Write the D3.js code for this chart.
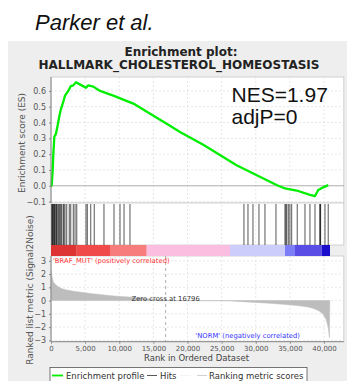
<!DOCTYPE html>
<html><head><meta charset="utf-8">
<script src="https://cdn.jsdelivr.net/npm/d3@7"></script>
<style>
html,body{margin:0;padding:0;background:#fff;}
svg{display:block;}
text{font-family:"DejaVu Sans",sans-serif;}
</style></head>
<body><svg id="c" width="347" height="381"></svg>
<script>
// ---- data ----
const esRank  = [0,100,250,340,490,730,920,1220,1420,1800,2050,2530,2890,3270,3660,4490,5130,5460,6200,7180,9130,12060,17430,18900,22310,27190,33050,34280,36000,37940,38680,39160,39900,40620];
const esValue = [0,0.0,0.10,0.20,0.31,0.33,0.37,0.44,0.48,0.53,0.57,0.60,0.63,0.635,0.655,0.635,0.62,0.635,0.627,0.60,0.57,0.52,0.38,0.34,0.26,0.13,0.005,-0.017,-0.03,-0.058,-0.065,-0.027,-0.01,0.004];
const hitRanks = [100,200,250,340,440,520,600,730,820,900,1070,1200,1320,1450,1570,1800,1900,2050,2300,2680,2890,3270,3520,3770,5130,5320,5820,6340,7760,9230,10110,10700,11570,
  28270,28860,29590,30470,31350,32960,34280,34400,34530,34770,35000,35260,36080,37210,37940,38680,39380,39450,39500,40140,40620];
const metricRank  = [0,150,340,700,1070,1600,2300,3500,4740,6000,7180,8400,9620,10800,12060,13040,14500,16796,26000,28000,30000,32000,34000,36000,37500,38500,39300,39900,40300,40600,40800,40850];
const metricValue = [2.25,1.8,1.4,1.2,1.05,0.9,0.8,0.68,0.6,0.52,0.45,0.39,0.33,0.29,0.25,0.2,0.12,0,-0.02,-0.08,-0.14,-0.2,-0.28,-0.37,-0.47,-0.6,-0.78,-1.05,-1.4,-2.0,-2.8,0];
const barBreaks = [0,3770,8640,14020,26225,34280,35750,39660,40880];
const barColors = ["#dd3333","#f04a4a","#f77d7d","#fbbde0","#cdcdfb","#7d7df5","#5a4de6","#1a0dcc"];
const xTicks = [0,5000,10000,15000,20000,25000,30000,35000,40000];
const esTicks = [-0.1,0,0.1,0.2,0.3,0.4,0.5,0.6];
const metricTicks = [-3,-2,-1,0,1,2,3];
const zeroCross = 16796;

const svg = d3.select("#c");
svg.append("rect").attr("x",8).attr("y",41).attr("width",339).attr("height",340).attr("fill","#eeeeee");

svg.append("text").attr("x",35).attr("y",30)
  .style("font-family","'Liberation Sans',Arial,sans-serif").attr("font-style","italic").attr("font-size",22).attr("fill","#111").text("Parker et al.");
svg.append("text").attr("x",181).attr("y",55.5).attr("text-anchor","middle").attr("font-weight","bold").attr("font-size",12).attr("fill","#222").text("Enrichment plot:");
svg.append("text").attr("x",179).attr("y",68.5).attr("text-anchor","middle").attr("font-weight","bold").attr("font-size",12).attr("fill","#222").text("HALLMARK_CHOLESTEROL_HOMEOSTASIS");

const L = 51, R = 343.8;
const x = d3.scaleLinear().domain([0,42900]).range([L,R]);
const esTop = 77, esBot = 203, hitBot = 245, barBot = 256, mBot = 341.7;
const yES = d3.scaleLinear().domain([-0.109,0.688]).range([esBot,esTop]);
const yM = d3.scaleLinear().domain([-3.1,3.36]).range([mBot,barBot]);

[[esTop,esBot],[esBot,hitBot],[barBot,mBot]].forEach(([a,b])=>{
  svg.append("rect").attr("x",L).attr("y",a).attr("width",R-L).attr("height",b-a).attr("fill","#fff").attr("stroke","#c8c8c8").attr("stroke-width",0.8);
});
const grid = svg.append("g").attr("stroke","#dddddd").attr("stroke-width",0.7).attr("stroke-dasharray","2,2");
xTicks.forEach(t=>{
  grid.append("line").attr("x1",x(t)).attr("x2",x(t)).attr("y1",esTop).attr("y2",hitBot);
  grid.append("line").attr("x1",x(t)).attr("x2",x(t)).attr("y1",barBot).attr("y2",mBot);
});
esTicks.forEach(t=>{ if(t!==0) grid.append("line").attr("x1",L).attr("x2",R).attr("y1",yES(t)).attr("y2",yES(t)); });
metricTicks.forEach(t=>{ grid.append("line").attr("x1",L).attr("x2",R).attr("y1",yM(t)).attr("y2",yM(t)); });
svg.append("line").attr("x1",L).attr("x2",R).attr("y1",yES(0)).attr("y2",yES(0)).attr("stroke","#999").attr("stroke-width",0.8);

svg.append("path").datum(esRank.map((r,i)=>[r,esValue[i]]))
  .attr("d",d3.line().x(d=>x(d[0])).y(d=>yES(d[1])))
  .attr("fill","none").attr("stroke","#00ee00").attr("stroke-width",2.3).attr("stroke-linejoin","round");

svg.append("g").selectAll("line").data(hitRanks).join("line")
  .attr("x1",d=>x(d)).attr("x2",d=>x(d)).attr("y1",esBot+1).attr("y2",hitBot)
  .attr("stroke","#000").attr("stroke-opacity",0.6).attr("stroke-width",1.1);

svg.append("g").selectAll("rect").data(barColors).join("rect")
  .attr("x",(d,i)=>x(barBreaks[i])).attr("width",(d,i)=>x(barBreaks[i+1])-x(barBreaks[i]))
  .attr("y",hitBot).attr("height",barBot-hitBot).attr("fill",d=>d);

svg.append("path").datum(metricRank.map((r,i)=>[r,metricValue[i]]))
  .attr("d",d3.area().x(d=>x(d[0])).y0(yM(0)).y1(d=>yM(d[1])))
  .attr("fill","#bdbdbd").attr("stroke","#bdbdbd").attr("stroke-width",0.5);
svg.append("line").attr("x1",x(zeroCross)).attr("x2",x(zeroCross)).attr("y1",barBot).attr("y2",mBot)
  .attr("stroke","#999").attr("stroke-width",0.8).attr("stroke-dasharray","3,3");

svg.append("text").attr("x",x(zeroCross)).attr("y",300.5).attr("text-anchor","middle").attr("font-size",6.8).attr("fill","#333").text("Zero cross at "+zeroCross);
svg.append("text").attr("x",53).attr("y",263).attr("font-size",6.8).attr("fill","#ff3333").text("'BRAF_MUT' (positively correlated)");
svg.append("text").attr("x",300).attr("y",337.5).attr("text-anchor","end").attr("font-size",6.8).attr("fill","#3333ff").text("'NORM' (negatively correlated)");

const axStyle = g=>{ g.selectAll("text").attr("fill","#555").style("font-family","'DejaVu Sans',sans-serif"); g.selectAll("line,path").attr("stroke","#888"); };
svg.append("g").attr("transform",`translate(${L},0)`)
  .call(d3.axisLeft(yES).tickValues(esTicks).tickSize(2).tickPadding(3).tickFormat(d3.format(".1f")))
  .call(g=>g.select(".domain").attr("d",`M0,${esTop}V${esBot}`)).attr("font-size",8).call(axStyle);
svg.append("g").attr("transform",`translate(${L},0)`)
  .call(d3.axisLeft(yM).tickValues(metricTicks).tickSize(2).tickPadding(3).tickFormat(d3.format("d")))
  .call(g=>g.select(".domain").attr("d",`M0,${barBot}V${mBot}`)).attr("font-size",8).call(axStyle);
svg.append("g").attr("transform",`translate(0,${mBot})`)
  .call(d3.axisBottom(x).tickValues(xTicks).tickSize(2).tickPadding(2).tickFormat(d3.format(",")))
  .call(g=>g.select(".domain").attr("d",`M${L},0H${R}`)).attr("font-size",7).call(axStyle);

svg.append("text").attr("transform","translate(25,143) rotate(-90)").attr("text-anchor","middle").attr("font-size",9).attr("fill","#555").text("Enrichment score (ES)");
svg.append("text").attr("transform","translate(33,290) rotate(-90)").attr("text-anchor","middle").attr("font-size",9).attr("fill","#555").text("Ranked list metric (Signal2Noise)");
svg.append("text").attr("x",196.5).attr("y",361).attr("text-anchor","middle").attr("font-size",8.5).attr("fill","#444").text("Rank in Ordered Dataset");

svg.append("text").attr("x",231.5).attr("y",101.5).attr("font-size",21).style("font-family","'Liberation Sans',Arial,sans-serif").attr("fill","#111").text("NES=1.97");
svg.append("text").attr("x",231.5).attr("y",123.5).attr("font-size",21).style("font-family","'Liberation Sans',Arial,sans-serif").attr("fill","#111").text("adjP=0");

const lg = svg.append("g");
lg.append("rect").attr("x",50).attr("y",367.5).attr("width",257).attr("height",16).attr("fill","#fff").attr("stroke","#555").attr("stroke-width",0.8);
const legendItems = [
  {label:"Enrichment profile", color:"#00ee00", w:1.8, x0:52, x1:63, tx:66},
  {label:"Hits", color:"#444", w:0.9, x0:147, x1:157, tx:160},
  {label:"", color:"#f2f2f2", w:0.9, x0:180, x1:191, tx:193},
  {label:"Ranking metric scores", color:"#cccccc", w:0.9, x0:197, x1:207, tx:209}
];
legendItems.forEach(it=>{
  lg.append("line").attr("x1",it.x0).attr("x2",it.x1).attr("y1",375.5).attr("y2",375.5).attr("stroke",it.color).attr("stroke-width",it.w);
  if(it.label) lg.append("text").attr("x",it.tx).attr("y",378.5).attr("font-size",8.5).attr("fill","#333").text(it.label);
});
</script></body></html>
